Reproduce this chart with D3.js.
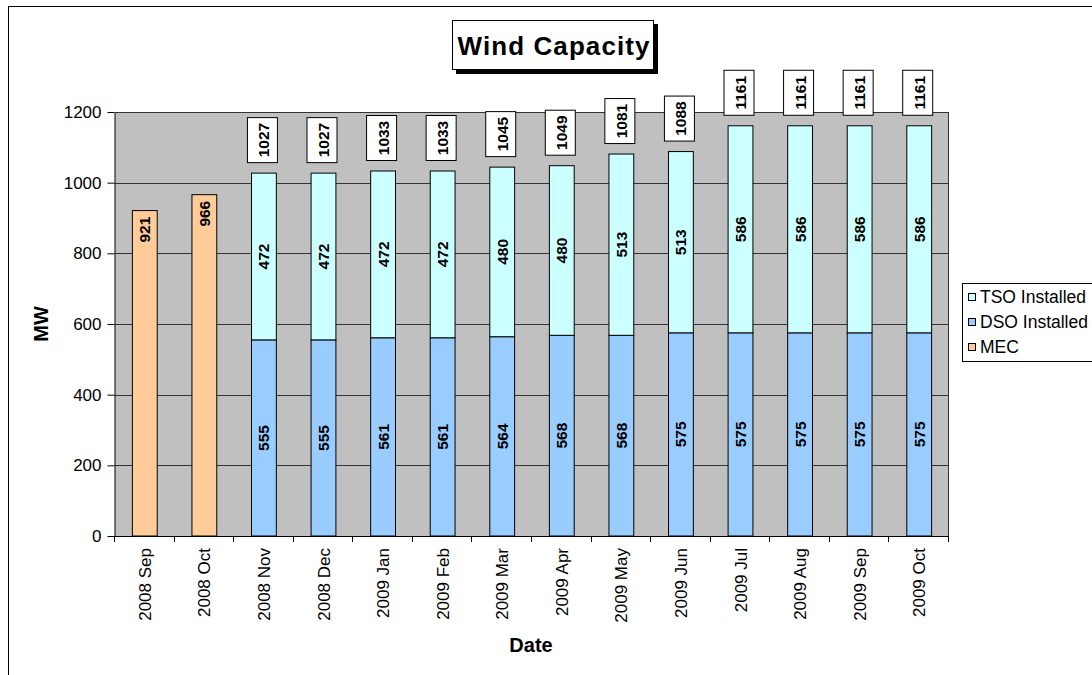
<!DOCTYPE html>
<html>
<head>
<meta charset="utf-8">
<script src="https://cdn.jsdelivr.net/npm/d3@7"></script>
<style>
  body { margin: 0; background: #fff; }
  svg { display: block; font-family: "Liberation Sans", Arial, sans-serif; }
</style>
</head>
<body>
<svg id="chart" width="1092" height="675"></svg>
<script>
// chart data
const months = ["2008 Sep", "2008 Oct", "2008 Nov", "2008 Dec", "2009 Jan", "2009 Feb", "2009 Mar",
  "2009 Apr", "2009 May", "2009 Jun", "2009 Jul", "2009 Aug", "2009 Sep", "2009 Oct"];
const mec = [921, 966, 0, 0, 0, 0, 0, 0, 0, 0, 0, 0, 0, 0];
const dso = [0, 0, 555, 555, 561, 561, 564, 568, 568, 575, 575, 575, 575, 575];
const tso = [0, 0, 472, 472, 472, 472, 480, 480, 513, 513, 586, 586, 586, 586];
const totals = [null, null, 1027, 1027, 1033, 1033, 1045, 1049, 1081, 1088, 1161, 1161, 1161, 1161];
const yTicks = [0, 200, 400, 600, 800, 1000, 1200];
const legendItems = [
  { name: "TSO Installed", color: "#CCFFFF" },
  { name: "DSO Installed", color: "#99CCFF" },
  { name: "MEC", color: "#FFCC99" }
];

const svg = d3.select("#chart");
const plot = { left: 115, right: 949, top: 112, bottom: 536 };

// outer chart frame (runs past the window edge)
svg.append("rect")
  .attr("x", 8.5).attr("y", 6.5)
  .attr("width", 1200).attr("height", 800)
  .attr("fill", "#fff").attr("stroke", "#000");

const x = d3.scaleBand().domain(months)
  .range([plot.left, plot.right])
  .paddingInner(1.4 / 2.4).paddingOuter(0.7 / 2.4);
const xSlot = d3.scaleBand().domain(months).range([plot.left, plot.right]);
const y = d3.scaleLinear().domain([0, 1200]).range([plot.bottom, plot.top]);

// plot background
svg.append("rect")
  .attr("x", plot.left).attr("y", plot.top)
  .attr("width", plot.right - plot.left).attr("height", plot.bottom - plot.top)
  .attr("fill", "#C0C0C0");

// gridlines
svg.append("g").selectAll("line")
  .data(yTicks.filter(d => d > 0))
  .enter().append("line")
  .attr("x1", plot.left).attr("x2", plot.right)
  .attr("y1", d => Math.round(y(d)) + 0.5).attr("y2", d => Math.round(y(d)) + 0.5)
  .attr("stroke", "#333").attr("stroke-width", 1);

svg.append("line")
  .attr("x1", plot.right - 0.5).attr("x2", plot.right - 0.5)
  .attr("y1", plot.top).attr("y2", plot.bottom)
  .attr("stroke", "#333");

// stacked bars
const rows = months.map((m, i) => ({ m, i, mec: mec[i], dso: dso[i], tso: tso[i], total: totals[i] }));
const bars = svg.append("g");

function addBar(sel, y0f, y1f, color) {
  sel.append("rect")
    .attr("x", d => x(d.m))
    .attr("y", d => y(y1f(d)))
    .attr("width", x.bandwidth())
    .attr("height", d => y(y0f(d)) - y(y1f(d)))
    .attr("fill", color)
    .attr("stroke", "#000").attr("stroke-width", 1);
}

const g = bars.selectAll("g").data(rows).enter().append("g");
addBar(g.filter(d => d.mec > 0), d => 0, d => d.mec, "#FFCC99");
addBar(g.filter(d => d.dso > 0), d => 0, d => d.dso, "#99CCFF");
addBar(g.filter(d => d.tso > 0), d => d.dso, d => d.dso + d.tso, "#CCFFFF");

// value labels (rotated, bold)
function vlabel(sel, cy, txt) {
  sel.append("text")
    .attr("transform", d => `translate(${x(d.m) + x.bandwidth() / 2 + 5.5},${cy(d)}) rotate(-90)`)
    .attr("text-anchor", "middle")
    .attr("font-size", 15.5).attr("font-weight", "bold")
    .text(txt);
}
vlabel(g.filter(d => d.mec > 0), d => y(d.mec) + 19, d => d.mec);
vlabel(g.filter(d => d.dso > 0), d => y(d.dso / 2), d => d.dso);
vlabel(g.filter(d => d.tso > 0), d => y(d.dso + d.tso / 2), d => d.tso);

// total labels in boxes above bars
const tg = g.filter(d => d.total != null);
tg.append("rect")
  .attr("x", d => x(d.m) + x.bandwidth() / 2 - 16.5)
  .attr("y", d => y(d.dso + d.tso) - 55.5)
  .attr("width", 30).attr("height", 45)
  .attr("fill", "#fff").attr("stroke", "#000");
vlabel(tg, d => y(d.dso + d.tso) - 33, d => d.total);

// y axis
const yAxis = svg.append("g")
  .attr("transform", `translate(${plot.left - 0.5},0)`)
  .call(d3.axisLeft(y).tickValues(yTicks).tickFormat(d3.format("d"))
    .tickSize(7).tickPadding(6).tickSizeOuter(0));
yAxis.select(".domain").attr("stroke", "#000");
yAxis.selectAll(".tick line").attr("stroke", "#000");
yAxis.selectAll("text").attr("font-size", 17)
  .attr("font-family", "Liberation Sans, Arial, sans-serif").attr("fill", "#000");

// x axis
svg.append("line")
  .attr("x1", plot.left - 7).attr("x2", plot.right)
  .attr("y1", plot.bottom + 0.5).attr("y2", plot.bottom + 0.5)
  .attr("stroke", "#000");
svg.append("g").selectAll("line")
  .data(months.concat(["end"]))
  .enter().append("line")
  .attr("x1", d => Math.round(d === "end" ? plot.right : xSlot(d)) - 0.5)
  .attr("x2", d => Math.round(d === "end" ? plot.right : xSlot(d)) - 0.5)
  .attr("y1", plot.bottom).attr("y2", plot.bottom + 6)
  .attr("stroke", "#000");
svg.append("g").selectAll("text")
  .data(months)
  .enter().append("text")
  .attr("transform", d => `translate(${xSlot(d) + xSlot.bandwidth() / 2 + 6},${plot.bottom + 12}) rotate(-90)`)
  .attr("text-anchor", "end")
  .attr("font-size", 17)
  .text(d => d);

// axis titles
svg.append("text")
  .attr("x", 531).attr("y", 652)
  .attr("text-anchor", "middle")
  .attr("font-size", 20).attr("font-weight", "bold")
  .text("Date");
svg.append("text")
  .attr("transform", `translate(48,${(plot.top + plot.bottom) / 2}) rotate(-90)`)
  .attr("text-anchor", "middle")
  .attr("font-size", 20).attr("font-weight", "bold")
  .text("MW");

// title box with shadow
svg.append("rect").attr("x", 456).attr("y", 24).attr("width", 202).attr("height", 50).attr("fill", "#000");
svg.append("rect").attr("x", 452.5).attr("y", 20.5).attr("width", 201).attr("height", 49)
  .attr("fill", "#fff").attr("stroke", "#000");
svg.append("text")
  .attr("x", 553.5).attr("y", 55)
  .attr("text-anchor", "middle")
  .attr("font-size", 26).attr("font-weight", "bold")
  .attr("textLength", 192).attr("lengthAdjust", "spacing")
  .text("Wind Capacity");

// legend
svg.append("rect")
  .attr("x", 962.5).attr("y", 283.5).attr("width", 200).attr("height", 78)
  .attr("fill", "#fff").attr("stroke", "#000");
const lg = svg.append("g").selectAll("g").data(legendItems).enter().append("g")
  .attr("transform", (d, i) => `translate(968,${297 + i * 25})`);
lg.append("rect").attr("x", 0.5).attr("y", -3.5).attr("width", 7).attr("height", 7)
  .attr("fill", d => d.color).attr("stroke", "#000");
lg.append("text").attr("x", 12).attr("y", 6)
  .attr("font-size", 17.5).text(d => d.name);
</script>
</body>
</html>
